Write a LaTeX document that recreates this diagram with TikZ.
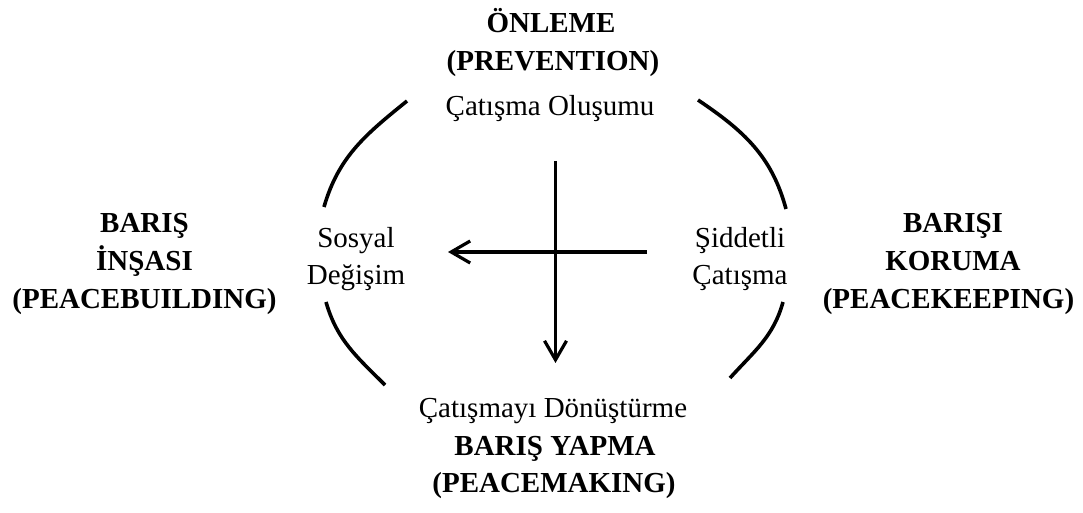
\documentclass[tikz,border=0pt]{standalone}
\usepackage{fontspec}
\setmainfont{Liberation Serif}
\usetikzlibrary{arrows.meta}
\begin{document}
\begin{tikzpicture}[x=1pt,y=1pt,
  txt/.style={font=\fontsize{29}{37}\selectfont, anchor=base, inner sep=0pt},
  btxt/.style={txt, font=\fontsize{29}{37}\selectfont\bfseries},
  arcline/.style={line width=3.6pt},
  flow/.style={line width=3.2pt, -{Straight Barb[length=19pt, width=22pt, line width=3.2pt]}}
]
\useasboundingbox (0,0) rectangle (1083,513);

% headings
\node[btxt] (on1) at (551,480) {ÖNLEME};
\node[btxt] (on2) at (553,442) {(PREVENTION)};
\node[btxt] (by1) at (555,57) {BARIŞ YAPMA};
\node[btxt] (by2) at (554,20) {(PEACEMAKING)};
\node[btxt] (bi1) at (144.5,280) {BARIŞ};
\node[btxt] (bi2) at (144.5,242) {İNŞASI};
\node[btxt] (bi3) at (144.5,204) {(PEACEBUILDING)};
\node[btxt] (bk1) at (953,280) {BARIŞI};
\node[btxt] (bk2) at (953,242) {KORUMA};
\node[btxt] (bk3) at (948.5,204) {(PEACEKEEPING)};

% inner labels
\node[txt] (co) at (550,397) {Çatışma Oluşumu};
\node[txt] (sd1) at (356,265) {Sosyal};
\node[txt] (sd2) at (356,228) {Değişim};
\node[txt] (sc1) at (740,265) {Şiddetli};
\node[txt] (sc2) at (740,228) {Çatışma};
\node[txt] (cd) at (553,95) {Çatışmayı Dönüştürme};

% arc end points
\coordinate (ul1) at (407,412);
\coordinate (ul2) at (324,306);
\coordinate (ll1) at (326,211);
\coordinate (ll2) at (385,128);
\coordinate (ur1) at (698,413);
\coordinate (ur2) at (786,304);
\coordinate (lr1) at (783,211);
\coordinate (lr2) at (730,135);

\draw[arcline] (ul1) to[out=219, in=74] (ul2);
\draw[arcline] (ll1) to[out=286, in=135] (ll2);
\draw[arcline] (ur1) to[out=-34, in=105] (ur2);
\draw[arcline] (lr1) to[out=254.5, in=48] (lr2);

% arrows
\coordinate (hs) at (647,261);
\coordinate (he) at (448,261);
\coordinate (vs) at (555.5,352);
\coordinate (ve) at (555.5,150);
\draw[flow] (hs) -- (he);
\draw[flow] (vs) -- (ve);
\end{tikzpicture}
\end{document}
